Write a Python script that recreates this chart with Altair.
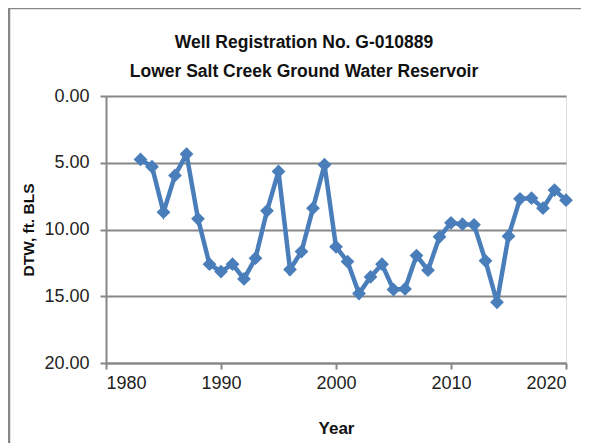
import altair as alt
import pandas as pd

years = list(range(1983, 2021))
dtw = [4.75, 5.3, 8.7, 5.95, 4.35, 9.2, 12.6, 13.15, 12.6, 13.7, 12.15, 8.6, 5.65,
       13.0, 11.65, 8.4, 5.15, 11.3, 12.4, 14.8, 13.55, 12.6, 14.5, 14.45, 11.95,
       13.05, 10.55, 9.5, 9.6, 9.65, 12.35, 15.45, 10.5, 7.7, 7.65, 8.4, 7.05, 7.8]

title_lines = ["Well Registration No. G-010889", "Lower Salt Creek Ground  Water Reservoir"]
x_ticks = [1980, 1990, 2000, 2010, 2020]
y_ticks = [0, 5, 10, 15, 20]

df = pd.DataFrame({"Year": years, "DTW": dtw})

W, H = 460, 267
BLUE = "#4A7EBB"
GRAY = "#878787"
FONT = "Liberation Sans"

base = alt.Chart(df)

line = base.mark_line(color=BLUE, strokeWidth=4.5).encode(
    x=alt.X("Year:Q", scale=alt.Scale(domain=[1980, 2020], nice=False, zero=False),
            axis=alt.Axis(values=x_ticks, format="d", title="Year", grid=False,
                          domainColor=GRAY, domainWidth=2, tickColor=GRAY, tickWidth=2,
                          tickSize=6, labelPadding=5, labelFont=FONT,
                          labelFontSize=18, labelColor="#222222", titleFont=FONT,
                          titleFontSize=17, titleFontWeight="bold", titlePadding=28,
                          titleColor="#111111")),
    y=alt.Y("DTW:Q", scale=alt.Scale(domain=[0, 20], reverse=True, nice=False),
            axis=alt.Axis(values=y_ticks, format=".2f", title="DTW, ft. BLS",
                          grid=True, gridColor=GRAY, gridWidth=2,
                          domainColor=GRAY, domainWidth=2, tickColor=GRAY, tickWidth=2,
                          tickSize=6, labelPadding=11, labelFont=FONT,
                          labelFontSize=18, labelColor="#222222", titleFont=FONT,
                          titleFontSize=15.5, titleFontWeight="bold", titlePadding=7,
                          titleColor="#111111")),
)

points = base.mark_point(shape="diamond", filled=True, size=190, color=BLUE, opacity=1).encode(
    x="Year:Q", y="DTW:Q"
)

border = alt.Chart(pd.DataFrame({"a": [0]})).mark_rect(
    fill=None, stroke=GRAY, strokeWidth=2.5
).encode(
    x=alt.value(-97), x2=alt.value(W + 60), y=alt.value(-88), y2=alt.value(H + 120)
)

chart = alt.layer(border, line, points).properties(
    width=W, height=H,
    title=alt.TitleParams(title_lines, font=FONT, fontSize=17.5, fontWeight="bold",
                          color="#111111", anchor="middle", frame="group", dx=-32,
                          dy=86, offset=12, lineHeight=29),
    autosize=alt.AutoSizeParams(type="none"),
    padding={"left": 98, "top": 88, "right": 15, "bottom": 80},
).configure_view(stroke=None).configure(background="white")

chart.save("out.html", embed_options={"renderer": "svg", "actions": False})
